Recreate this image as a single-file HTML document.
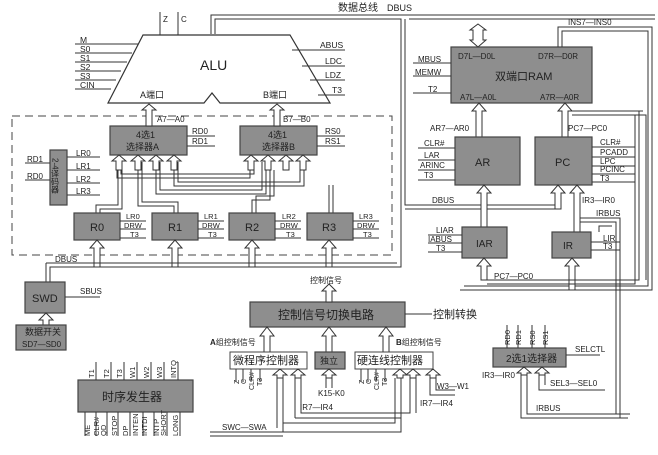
<!DOCTYPE html>
<html><head><meta charset="utf-8"><style>
html,body{margin:0;padding:0;background:#fff}
svg{display:block}
text{font-family:"Liberation Sans","Noto Sans CJK SC",sans-serif;fill:#222}
.b{fill:#8e8e8e;stroke:#444;stroke-width:1.2}
.w{fill:#fff;stroke:#444;stroke-width:1}
.l{stroke:#333;stroke-width:1;fill:none}
.a{fill:#fff;stroke:#333;stroke-width:1}
</style></head><body>
<svg width="658" height="455" viewBox="0 0 658 455" xmlns="http://www.w3.org/2000/svg">
<rect width="658" height="455" fill="#fff"/>
<!-- top data bus -->
<path class="l" d="M211 34 V15 H655 M215 34 V19 H401 V267 H50 V282 M405 19 V205 H560 M409 19 H655"/>
<path class="l" d="M405 209 H560"/>
<text x="338" y="11" font-size="10">数据总线</text><text x="387" y="11" font-size="9">DBUS</text>
<!-- ALU -->
<polygon points="143,35 290,35 330,103 220,103 212,93 204,103 108,103" fill="#fff" stroke="#333" stroke-width="1.2"/>
<text x="200" y="70" font-size="14">ALU</text>
<text x="140" y="98" font-size="9">A端口</text><text x="263" y="98" font-size="9">B端口</text>
<path class="l" d="M160 12 V35 M178 12 V35"/>
<text x="163" y="22" font-size="8">Z</text><text x="181" y="22" font-size="8">C</text>
<path class="l" d="M75 44 H138 M75 53 H132 M75 62 H127 M75 71 H121 M75 80 H116 M75 89 H111 M292 50 H345 M302 66 H345 M310 80 H345 M318 95 H345"/>
<g font-size="8.5"><text x="80" y="43">M</text><text x="80" y="52">S0</text><text x="80" y="61">S1</text><text x="80" y="70">S2</text><text x="80" y="79">S3</text><text x="80" y="88">CIN</text>
<text x="320" y="48">ABUS</text><text x="325" y="64">LDC</text><text x="325" y="78">LDZ</text><text x="332" y="93">T3</text></g>
<!-- dashed -->
<rect x="12" y="116" width="380" height="139" fill="none" stroke="#444" stroke-dasharray="8,5"/>
<!-- selectors -->
<rect class="b" x="110" y="126" width="77" height="29"/><text x="136" y="138" font-size="9">4选1</text><text x="126" y="150" font-size="9">选择器A</text>
<rect class="b" x="240" y="126" width="77" height="29"/><text x="268" y="138" font-size="9">4选1</text><text x="262" y="150" font-size="9">选择器B</text>
<path class="a" d="M146 126 V110 H142 L149 104 L156 110 H152 V126Z M274 126 V110 H270 L277 104 L284 110 H280 V126Z"/>
<text x="157" y="122" font-size="8">A7—A0</text><text x="283" y="122" font-size="8">B7—B0</text>
<path class="l" d="M187 136 H215 M187 146 H215 M317 136 H345 M317 146 H345"/>
<g font-size="8"><text x="192" y="134">RD0</text><text x="192" y="144">RD1</text><text x="325" y="134">RS0</text><text x="325" y="144">RS1</text></g>
<!-- selector input arrows & wires -->
<g class="l">
<path d="M96 213 V205 H118 V162 M100 213 V209 H122 V162"/>
<path d="M117 170 V178 H250 V162 M121 170 V174 H254 V162" />
<path d="M174 213 V206 H138 V162 M178 213 V202 H142 V162"/>
<path d="M156 162 V194 H266 V162 M160 162 V190 H262 V162" />
<path d="M252 213 V200 H270 V170 M256 213 V196 H274 V170"/>
<path d="M174 162 V186 H304 V162 M178 162 V182 H300 V162"/>
<path d="M329 213 V185 M333 213 V185"/>
</g>
<g class="a">
<path d="M116 170 V161 H112 L119 155 L126 161 H122 V170Z"/><path d="M135 170 V161 H131 L138 155 L145 161 H141 V170Z"/><path d="M153 170 V161 H149 L156 155 L163 161 H159 V170Z"/><path d="M171 170 V161 H167 L174 155 L181 161 H177 V170Z"/>
<path d="M248 170 V161 H244 L251 155 L258 161 H254 V170Z"/><path d="M265 170 V161 H261 L268 155 L275 161 H271 V170Z"/><path d="M283 170 V161 H279 L286 155 L293 161 H289 V170Z"/><path d="M300 170 V161 H296 L303 155 L310 161 H306 V170Z"/>
</g>
<!-- 2-4 decoder -->
<rect class="b" x="50" y="150" width="17" height="55"/>
<text x="55" y="158" font-size="8" writing-mode="tb">2-4译码器</text>
<path class="l" d="M25 163 H50 M25 180 H50 M67 157 H100 M67 170 H100 M67 183 H100 M67 195 H100"/>
<g font-size="8"><text x="27" y="162">RD1</text><text x="27" y="179">RD0</text><text x="76" y="156">LR0</text><text x="76" y="169">LR1</text><text x="76" y="182">LR2</text><text x="76" y="194">LR3</text></g>
<!-- registers -->
<g font-size="11">
<rect class="b" x="74" y="213" width="46" height="27"/><text x="90" y="231">R0</text>
<rect class="b" x="152" y="213" width="46" height="27"/><text x="168" y="231">R1</text>
<rect class="b" x="229" y="213" width="46" height="27"/><text x="245" y="231">R2</text>
<rect class="b" x="307" y="213" width="46" height="27"/><text x="322" y="231">R3</text>
</g>
<path class="l" d="M120 221 H146 M120 229 H146 M120 238 H146 M198 221 H224 M198 229 H224 M198 238 H224 M275 221 H301 M275 229 H301 M275 238 H301 M353 221 H379 M353 229 H379 M353 238 H379"/>
<g font-size="7.5"><text x="126" y="219">LR0</text><text x="124" y="228">DRW</text><text x="130" y="237">T3</text>
<text x="204" y="219">LR1</text><text x="202" y="228">DRW</text><text x="208" y="237">T3</text>
<text x="282" y="219">LR2</text><text x="280" y="228">DRW</text><text x="286" y="237">T3</text>
<text x="359" y="219">LR3</text><text x="357" y="228">DRW</text><text x="363" y="237">T3</text></g>
<g class="a">
<path d="M94 267 V248 H90 L97 240 L104 248 H100 V267Z"/><path d="M172 267 V248 H168 L175 240 L182 248 H178 V267Z"/><path d="M249 267 V248 H245 L252 240 L259 248 H255 V267Z"/><path d="M326 267 V248 H322 L329 240 L336 248 H332 V267Z"/>
</g>
<path class="l" d="M46 263 H397 M46 263 V282"/>
<text x="55" y="262" font-size="8">DBUS</text>
<!-- SWD -->
<rect class="b" x="25" y="282" width="40" height="31"/><text x="32" y="302" font-size="11">SWD</text>
<path class="l" d="M65 297 H100"/><text x="80" y="294" font-size="8">SBUS</text>
<path class="a" d="M43 325 V320 H39 L46 313 L53 320 H49 V325Z"/>
<rect class="b" x="16" y="325" width="50" height="25"/><text x="25" y="335" font-size="9">数据开关</text><text x="22" y="347" font-size="8">SD7—SD0</text>
<!-- timing -->
<rect class="b" x="78" y="380" width="115" height="32"/><text x="102" y="401" font-size="12">时序发生器</text>
<path class="l" d="M96 362 V380 M111 362 V380 M124 362 V380 M137 362 V380 M151 362 V380 M164 362 V380 M178 362 V380 M85 412 V436 M96 412 V436 M107 412 V436 M118 412 V436 M130 412 V436 M143 412 V436 M154 412 V436 M167 412 V436 M180 412 V436"/>
<g font-size="7.5">
<text transform="translate(94,378) rotate(-90)">T1</text><text transform="translate(109,378) rotate(-90)">T2</text><text transform="translate(122,378) rotate(-90)">T3</text><text transform="translate(135,378) rotate(-90)">W1</text><text transform="translate(149,378) rotate(-90)">W2</text><text transform="translate(162,378) rotate(-90)">W3</text><text transform="translate(176,378) rotate(-90)">INTQ</text>
<text transform="translate(90,436) rotate(-90)">ME</text><text transform="translate(99,436) rotate(-90)">CLR#</text><text transform="translate(106,436) rotate(-90)">QD</text><text transform="translate(117,436) rotate(-90)">STOP</text><text transform="translate(128,436) rotate(-90)">DP</text><text transform="translate(138,436) rotate(-90)">INTEN</text><text transform="translate(147,436) rotate(-90)">INTDI</text><text transform="translate(159,436) rotate(-90)">INTP</text><text transform="translate(166,436) rotate(-90)">SHORT</text><text transform="translate(178,436) rotate(-90)">LONG</text></g>
<!-- control switch -->
<rect class="b" x="250" y="302" width="155" height="25"/><text x="278" y="319" font-size="12">控制信号切换电路</text>
<path class="a" d="M326 302 V291 H322 L329 284 L336 291 H332 V302Z"/>
<text x="310" y="283" font-size="8">控制信号</text>
<path class="l" d="M405 314 H432"/><text x="433" y="318" font-size="11">控制转换</text>
<path class="a" d="M264 352 V336 H260 L267 327 L274 336 H270 V352Z M326 352 V336 H322 L329 327 L336 336 H332 V352Z M383 352 V336 H379 L386 327 L393 336 H389 V352Z"/>
<text x="210" y="345" font-size="8"><tspan font-weight="bold">A</tspan>组控制信号</text>
<text x="396" y="345" font-size="8"><tspan font-weight="bold">B</tspan>组控制信号</text>
<rect class="w" x="230" y="352" width="77" height="17"/><text x="233" y="364" font-size="11">微程序控制器</text>
<rect class="b" x="315" y="352" width="30" height="17"/><text x="320" y="364" font-size="9">独立</text>
<rect class="w" x="355" y="352" width="78" height="17"/><text x="357" y="364" font-size="11">硬连线控制器</text>
<path class="a" d="M326 378 V375 H322 L329 369 L336 375 H332 V378Z M277 378 V375 H273 L280 369 L287 375 H283 V378Z M295 378 V375 H291 L298 369 L305 375 H301 V378Z M397 378 V375 H393 L400 369 L407 375 H403 V378Z M410 378 V375 H406 L413 369 L420 375 H416 V378Z M430 378 V375 H426 L433 369 L440 375 H436 V378Z"/>
<path class="l" d="M326 378 V388 M332 378 V388 M277 378 V428 M283 378 V423 H395 V378 M295 378 V418 M301 378 V413 H410 V378 M401 378 V418 H295 M416 378 V413 M210 432 H283 V378 M210 436 H283 M283 432 H401 V418 M430 378 V395 H455 M436 378 V390 H455"/>
<text x="318" y="396" font-size="8">K15-K0</text>
<text x="300" y="410" font-size="8">IR7—IR4</text><text x="420" y="406" font-size="8">IR7—IR4</text>
<text x="437" y="389" font-size="8">W3—W1</text>
<text x="222" y="430" font-size="8">SWC—SWA</text>
<path class="l" d="M236 369 V382 M243 369 V382 M251 369 V382 M260 369 V382 M361 369 V382 M368 369 V382 M376 369 V382 M385 369 V382"/>
<g font-size="7"><text transform="translate(239,384) rotate(-90)">Z</text><text transform="translate(246,384) rotate(-90)">C</text><text transform="translate(254,390) rotate(-90)">CLR#</text><text transform="translate(262,386) rotate(-90)">T3</text>
<text transform="translate(364,384) rotate(-90)">Z</text><text transform="translate(371,384) rotate(-90)">C</text><text transform="translate(379,390) rotate(-90)">CLR#</text><text transform="translate(387,386) rotate(-90)">T3</text></g>
<!-- 2-to-1 selector -->
<rect class="b" x="493" y="348" width="73" height="19"/><text x="506" y="362" font-size="10">2选1选择器</text>
<path class="l" d="M507 325 V348 M518 325 V348 M532 325 V348 M545 325 V348 M566 355 H600"/>
<g font-size="7.5"><text transform="translate(510,345) rotate(-90)">RD0</text><text transform="translate(521,345) rotate(-90)">RD1</text><text transform="translate(535,345) rotate(-90)">RS0</text><text transform="translate(548,345) rotate(-90)">RS1</text></g>
<text x="575" y="352" font-size="8">SELCTL</text>
<path class="a" d="M521 375 V373 H517 L524 367 L531 373 H527 V375Z M539 375 V373 H535 L542 367 L549 373 H545 V375Z"/>
<path class="l" d="M521 375 V418 H628 M527 375 V414 H630 M539 375 V390 H605 M545 375 V385"/>
<text x="482" y="378" font-size="8">IR3—IR0</text><text x="550" y="386" font-size="8">SEL3—SEL0</text>
<text x="536" y="411" font-size="8">IRBUS</text>
<!-- RAM -->
<rect class="b" x="451" y="47" width="141" height="56"/>
<text x="495" y="80" font-size="11">双端口RAM</text>
<g font-size="8"><text x="458" y="59">D7L—D0L</text><text x="538" y="59">D7R—D0R</text><text x="460" y="100">A7L—A0L</text><text x="540" y="100">A7R—A0R</text></g>
<path class="a" d="M478 24 L486 30 H483 V40 H486 L478 47 L470 40 H473 V30 H470Z" />
<path class="l" d="M413 63 H451 M413 76 H451 M413 93 H451"/>
<g font-size="8"><text x="418" y="62">MBUS</text><text x="415" y="75">MEMW</text><text x="428" y="92">T2</text></g>
<path class="l" d="M558 47 V27 H652 V290 H460 M562 47 V31 H648 V286 H464"/>
<text x="568" y="25" font-size="8">INS7—INS0</text>
<path class="a" d="M476 137 V111 H472 L479 103 L486 111 H482 V137Z M562 137 V111 H558 L565 103 L572 111 H568 V137Z"/>
<text x="430" y="131" font-size="8">AR7—AR0</text><text x="568" y="131" font-size="8">PC7—PC0</text>
<path class="l" d="M572 115 H646 V280 M572 111 H643"/>
<!-- AR PC -->
<rect class="b" x="455" y="137" width="65" height="48"/><text x="475" y="166" font-size="11">AR</text>
<rect class="b" x="535" y="137" width="57" height="48"/><text x="555" y="166" font-size="11">PC</text>
<path class="l" d="M418 148 H455 M418 160 H455 M418 170 H455 M418 180 H455 M592 147 H635 M592 157 H635 M592 166 H635 M592 174 H635 M592 182 H635"/>
<g font-size="8"><text x="424" y="146">CLR#</text><text x="424" y="158">LAR</text><text x="420" y="168">ARINC</text><text x="424" y="178">T3</text>
<text x="600" y="145">CLR#</text><text x="600" y="155">PCADD</text><text x="600" y="164">LPC</text><text x="600" y="172">PCINC</text><text x="600" y="181">T3</text></g>
<text x="432" y="203" font-size="8">DBUS</text>
<path class="a" d="M481 227 V193 H477 L484 185 L491 193 H487 V227Z M555 209 V193 H551 L558 185 L565 193 H561 V209Z M574 232 V193 H570 L577 185 L584 193 H580 V232Z"/>
<text x="582" y="203" font-size="8">IR3—IR0</text>
<path class="l" d="M580 218 H620 V418 M580 222 H616 V414 M599 232 V226 H612"/>
<text x="596" y="216" font-size="8">IRBUS</text>
<!-- IAR IR -->
<rect class="b" x="462" y="227" width="45" height="31"/><text x="476" y="247" font-size="10">IAR</text>
<rect class="b" x="552" y="232" width="39" height="26"/><text x="563" y="249" font-size="10">IR</text>
<path class="l" d="M428 235 H462 M428 243 H462 M428 252 H462 M591 242 H620 M591 250 H620"/>
<g font-size="8"><text x="436" y="233">LIAR</text><text x="428" y="242">IABUS</text><text x="436" y="251">T3</text><text x="603" y="241">LIR</text><text x="603" y="249">T3</text></g>
<path class="a" d="M481 280 V266 H477 L484 258 L491 266 H487 V280Z M569 290 V266 H565 L572 258 L579 266 H575 V290Z"/>
<path class="l" d="M481 280 H639 V111 M487 284 H635 V115"/>
<text x="494" y="279" font-size="8">PC7—PC0</text>
</svg>
</body></html>
